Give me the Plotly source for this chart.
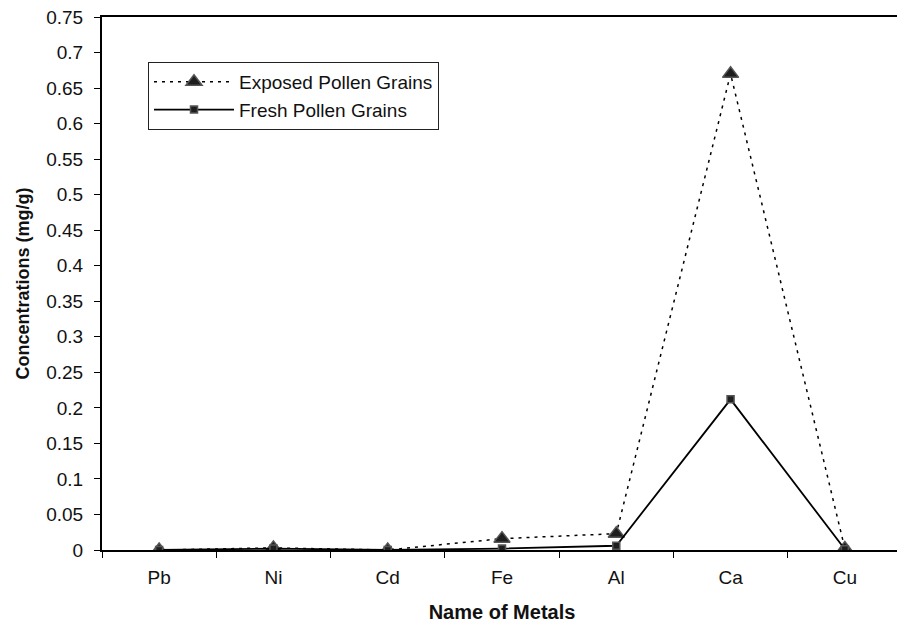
import plotly.graph_objects as go

metals = ["Pb", "Ni", "Cd", "Fe", "Al", "Ca", "Cu"]
exposed = [0.0, 0.003, 0.0, 0.016, 0.023, 0.67, 0.002]
fresh = [0.0, 0.002, 0.0, 0.002, 0.006, 0.212, 0.001]

fig = go.Figure()
fig.add_trace(go.Scatter(
    x=metals, y=exposed, name="Exposed Pollen Grains", mode="lines+markers",
    line=dict(color="black", width=1.5, dash="3px,5px"),
    marker=dict(symbol="triangle-up", size=14, color="#1e1e1e",
                line=dict(color="#555555", width=1.5)),
))
fig.add_trace(go.Scatter(
    x=metals, y=fresh, name="Fresh Pollen Grains", mode="lines+markers",
    line=dict(color="black", width=1.8),
    marker=dict(symbol="square", size=7, color="#1e1e1e",
                line=dict(color="#555555", width=1.5)),
))

# The page body has an 8px margin, so the figure is offset by 8px;
# margins compensate so the plot area lands where it is in the reference.
fig.update_layout(
    width=897, height=615,
    margin=dict(l=94, r=3, t=9, b=73),
    paper_bgcolor="white", plot_bgcolor="white",
    font=dict(family="Liberation Sans, Arial, sans-serif", size=19, color="#111111"),
    showlegend=True,
    legend=dict(x=0.0575, y=0.9156, xanchor="left", yanchor="top",
                bgcolor="white", bordercolor="#222222", borderwidth=1,
                font=dict(size=19), itemwidth=80, tracegroupgap=0),
    xaxis=dict(
        title=dict(text="<b>Name of Metals</b>", font=dict(size=20), standoff=18),
        automargin=False, range=[-0.5, len(metals) - 0.5],
        type="category", tickson="boundaries", ticks="outside", ticklen=6,
        tickcolor="black", showline=True, linecolor="black", linewidth=2,
        mirror=True, showgrid=False, zeroline=False, tickfont=dict(size=19),
        ticklabelstandoff=9,
    ),
    yaxis=dict(
        title=dict(text="<b>Concentrations (mg/g)</b>", font=dict(size=18), standoff=12),
        automargin=False,
        range=[0, 0.75], dtick=0.05, tickformat="~g", ticks="outside", ticklen=6,
        tickcolor="black", showline=True, linecolor="black", linewidth=2,
        mirror=True, showgrid=False, zeroline=False, tickfont=dict(size=19),
        ticklabelstandoff=7, ticklabeloverflow="allow",
    ),
)

fig.write_html("out.html")
